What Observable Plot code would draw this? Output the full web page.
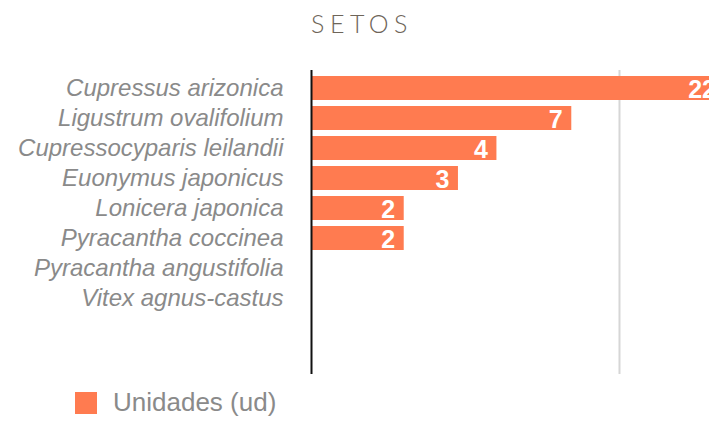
<!DOCTYPE html>
<html>
<head>
<meta charset="utf-8">
<script src="https://cdn.jsdelivr.net/npm/d3@7"></script>
<script src="https://cdn.jsdelivr.net/npm/@observablehq/plot@0.6"></script>
<style>
  html, body { margin: 0; padding: 0; background: #fff; overflow: hidden; width: 709px; height: 422px; }
  #title { height: 60px; box-sizing: border-box; padding-top: 8px; padding-left: 15px; text-align: center;
    font-family: "Lato", "Open Sans", sans-serif; font-weight: 300; font-size: 25px; letter-spacing: 5.5px; color: #6e6559; }
  #chart { position: absolute; top: 60px; left: 0; width: 709px; overflow: hidden; }
  #chart svg { overflow: hidden; }
  #legend { position: absolute; top: 387px; left: 75px; display: flex; align-items: center;
    font-family: "Liberation Sans", Arial, sans-serif; font-size: 26px; color: #8a8a8a; }
  #legend .sw { width: 22px; height: 22px; background: #ff7b50; margin-right: 16px; }
</style>
</head>
<body>
<div id="title">SETOS</div>
<div id="chart"></div>
<div id="legend"><div class="sw"></div><span>Unidades (ud)</span></div>
<script>
const species = [
  "Cupressus arizonica",
  "Ligustrum ovalifolium",
  "Cupressocyparis leilandii",
  "Euonymus japonicus",
  "Lonicera japonica",
  "Pyracantha coccinea",
  "Pyracantha angustifolia",
  "Vitex agnus-castus"
];
const units = [22, 7, 4, 3, 2, 2, 0, 0];
const gridTicks = [10];

const data = species.map((s, i) => ({species: s, units: units[i]}));
const shown = data.filter(d => d.units > 0);

const plot = Plot.plot({
  width: 709,
  height: 320,
  marginTop: 10,
  marginBottom: 6,
  marginLeft: 311,
  marginRight: 0,
  style: {background: "transparent"},
  x: {type: "log", domain: [1, 19.6], axis: null},
  y: {domain: species, range: [13, 253], paddingInner: 0.2, paddingOuter: 0.1, label: null},
  marks: [
    Plot.gridX(gridTicks, {stroke: "#d6d6d6", strokeOpacity: 1, strokeWidth: 2}),
    Plot.barX(shown, {x1: () => 1, x2: "units", y: "species", fill: "#ff7b50"}),
    Plot.text(shown, {x: "units", y: "species", text: d => String(d.units), textAnchor: "end", dx: -9, dy: 1,
      fill: "white", fontWeight: "bold", fontSize: 25, fontFamily: "Liberation Sans, Arial, sans-serif"}),
    Plot.ruleX([1], {stroke: "#111", strokeWidth: 2}),
    Plot.axisY({tickSize: 0, tickPadding: 28, fontSize: 24, fontStyle: "italic", color: "#8a8a8a",
      fontFamily: "Liberation Sans, Arial, sans-serif", label: null})
  ]
});
document.getElementById("chart").appendChild(plot);
</script>
</body>
</html>
